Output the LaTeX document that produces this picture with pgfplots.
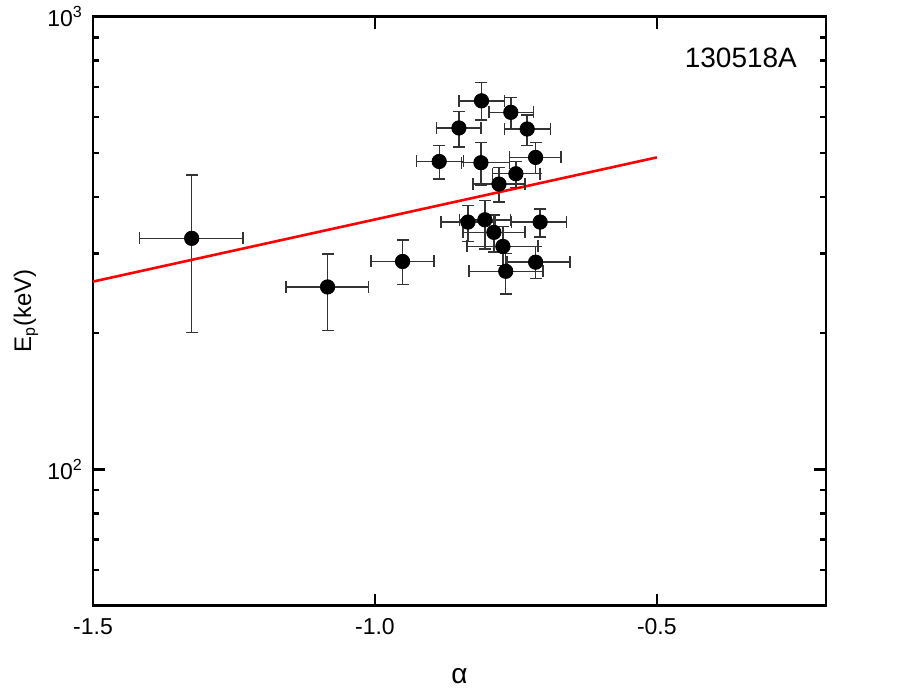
\documentclass[border=0pt]{standalone}
\usepackage{pgfplots}
\pgfplotsset{compat=1.18}
\usepackage{pgfplotstable}
\usepackage{fontspec}
\setmainfont{Liberation Sans}

% alpha, Ep with asymmetric errors (absolute)
\pgfplotstableread{
x      exm    exp    y    eym  eyp
-1.325 0.092  0.091  324  123  123
-1.084 0.074  0.073  253  50   46
-0.951 0.056  0.056  288  32   33
-0.811 0.040  0.041  652  61   64
-0.759 0.039  0.040  615  50   48
-0.851 0.040  0.039  568  52   49
-0.730 0.040  0.041  565  46   42
-0.886 0.040  0.043  479  41   40
-0.812 0.034  0.051  476  51   52
-0.715 0.046  0.045  489  39   39
-0.750 0.041  0.043  450  31   29
-0.780 0.046  0.046  427  37   38
-0.835 0.048  0.049  352  33   31
-0.805 0.045  0.045  356  49   37
-0.707 0.051  0.047  352  26   24
-0.789 0.055  0.055  334  32   31
-0.773 0.064  0.062  311  29   33
-0.715 0.051  0.061  287  23   24
-0.768 0.065  0.066  274  30   26
}\pts

\begin{document}
\begin{tikzpicture}
  \begin{axis}[
    scale only axis,
    width=366.5pt, height=294.5pt,
    xmin=-1.5, xmax=-0.2,
    ymode=log, ymin=50, ymax=1000,
    axis line style={line width=1.4pt},
    tick style={line width=1.2pt, black},
    major tick length=6pt, minor tick length=3pt,
    tick align=inside,
    xtick={-1.5,-1,-0.5}, xticklabels={-1.5,-1.0,-0.5},
    minor xtick={},
    ytick={100,1000}, yticklabels={10\textsuperscript{2},10\textsuperscript{3}},
    minor ytick={60,70,80,90,200,300,400,500,600,700,800,900},
    xticklabel style={font=\fontsize{11.5}{13}\selectfont, yshift=-3pt},
    yticklabel style={font=\fontsize{11.5}{13}\selectfont, xshift=-1.5pt},
    xlabel={α},
    xlabel style={font=\fontsize{14}{16}\selectfont, at={(axis description cs:0.5,-0.119)}, anchor=center},
    ylabel={E\textsubscript{p}(keV)},
    ylabel style={font=\fontsize{12}{14}\selectfont, at={(axis description cs:-0.0914,0.5)}, anchor=center},
    clip=false,
    caps/.style={only marks, black!80, mark size=3pt, mark options={line width=0.7pt}},
  ]
    % error bar caps
    \addplot[caps, mark=-] table[x=x, y expr=\thisrow{y}+\thisrow{eyp}] {\pts};
    \addplot[caps, mark=-] table[x=x, y expr=\thisrow{y}-\thisrow{eym}] {\pts};
    \addplot[caps, mark=|] table[x expr=\thisrow{x}+\thisrow{exp}, y=y] {\pts};
    \addplot[caps, mark=|] table[x expr=\thisrow{x}-\thisrow{exm}, y=y] {\pts};

    \addplot[only marks, mark=*, mark size=3.6pt, black,
      error bars/.cd,
        x dir=both, x explicit,
        y dir=both, y explicit,
        error mark=none,
        error bar style={line width=0.7pt, black!80}]
      table[x=x, y=y, x error minus=exm, x error plus=exp,
            y error minus=eym, y error plus=eyp] {\pts};

    \addplot[red, line width=1.3pt, no marks] coordinates {(-1.5,260) (-0.5,489)};

    \node[anchor=east, font=\fontsize{14}{16}\selectfont] at (rel axis cs:0.970,0.930) {130518A};
  \end{axis}
  \path ([shift={(-46.5pt,-45pt)}]current axis.south west) rectangle ([shift={(45.5pt,8pt)}]current axis.north east);
\end{tikzpicture}
\end{document}
